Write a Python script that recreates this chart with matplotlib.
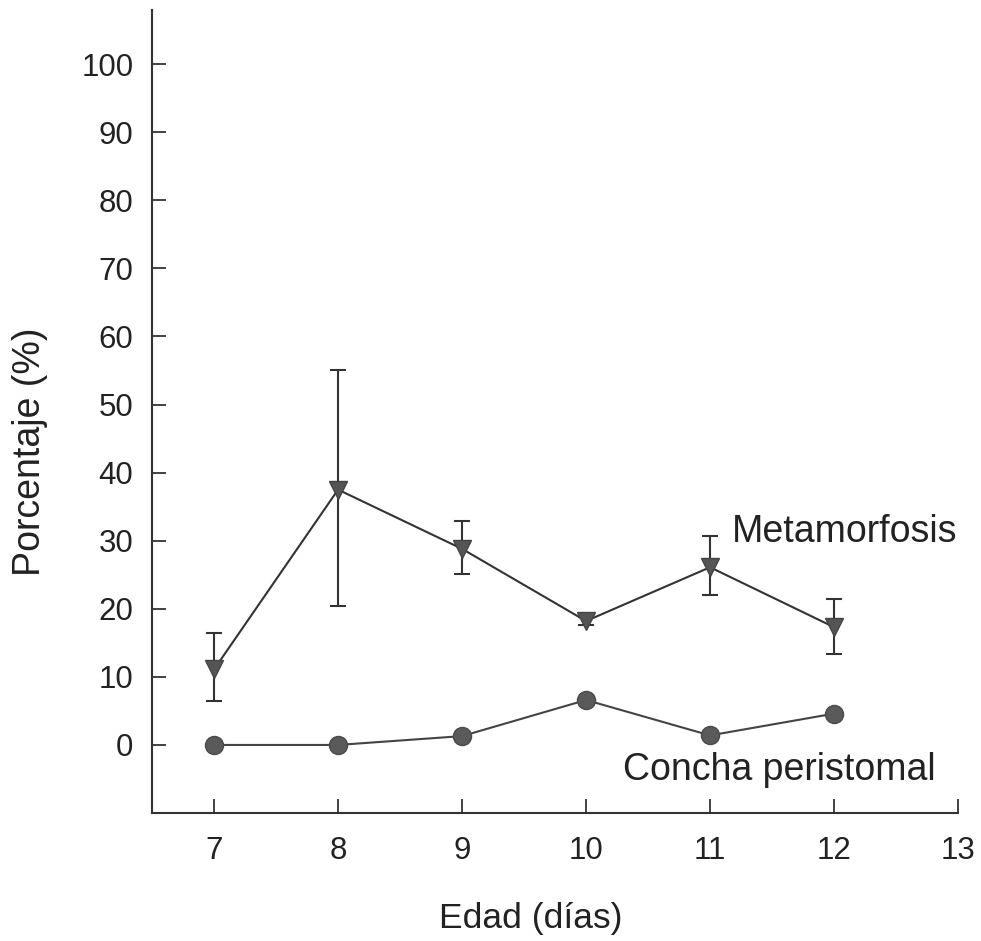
import matplotlib.pyplot as plt

plt.rcParams['font.family'] = ['Liberation Sans', 'DejaVu Sans']

# data
edad = [7, 8, 9, 10, 11, 12]
metamorfosis = [11.1, 37.5, 28.8, 18.2, 26.1, 17.3]
meta_low = [6.4, 20.4, 25.1, 17.6, 22.0, 13.3]
meta_high = [16.4, 55.0, 32.9, 18.8, 30.7, 21.5]
concha = [0, 0, 1.3, 6.6, 1.4, 4.6]

yerr = [[m - lo for m, lo in zip(metamorfosis, meta_low)],
        [hi - m for m, hi in zip(metamorfosis, meta_high)]]

fig = plt.figure(figsize=(9.81, 9.41), dpi=100)
ax = fig.add_axes([0.155, 0.136, 0.8216, 0.853])

ax.errorbar(edad, metamorfosis, yerr=yerr, color="#333333", lw=1.5,
            marker="v", ms=13, mfc="#555555", mec="#444444",
            capsize=6, elinewidth=1.5, capthick=1.5)
ax.plot(edad, concha, color="#444444", lw=1.5, marker="o", ms=13,
        mfc="#5a5a5a", mec="#4a4a4a")

ax.text(11.18, 29.8, "Metamorfosis", fontsize=27, va="baseline", color="#222222")
ax.text(10.3, -5.1, "Concha peristomal", fontsize=27, va="baseline", color="#222222")

ax.set_xlim(6.5, 13)
ax.set_ylim(-10, 107.9)
ax.set_xticks(range(7, 14))
ax.set_yticks(range(0, 101, 10))
ax.spines["top"].set_visible(False)
ax.spines["right"].set_visible(False)
for s in ["left", "bottom"]:
    ax.spines[s].set_linewidth(1.5)
    ax.spines[s].set_color("#333333")
ax.tick_params(direction="in", length=10, width=1.3, labelsize=22.5,
               color="#333333", labelcolor="#222222")
ax.tick_params(axis="y", pad=13.5)
ax.tick_params(axis="x", pad=16.5)

ax.set_xlabel("Edad (días)", fontsize=25.5, va="center", color="#222222")
ax.set_ylabel("Porcentaje (%)", fontsize=27, va="center", color="#222222")
ax.xaxis.set_label_coords(0.4696, -0.1308)
ax.yaxis.set_label_coords(-0.151, 0.450)

fig.savefig("out.png", dpi=100)
